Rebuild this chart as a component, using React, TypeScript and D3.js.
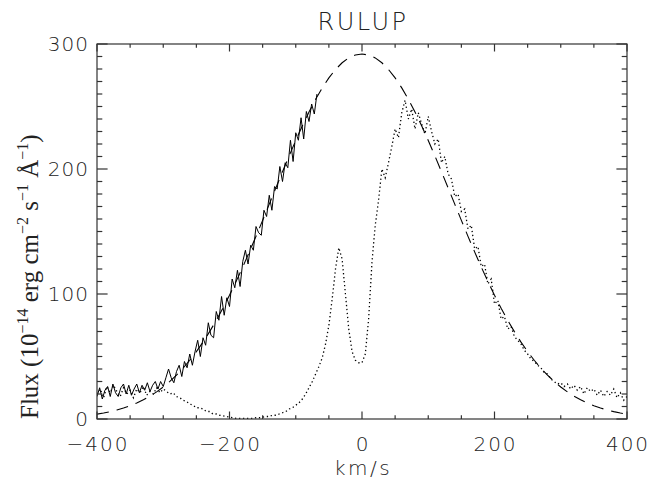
import React from "react";
import * as d3 from "d3";

const title = "RULUP";
const xTicksMajor = [-400, -200, 0, 200, 400];
const yTicksMajor = [0, 100, 200, 300];

// dashed model curve, km/s every 10 from -400 to 400
const modelX = [
  -400, -390, -380, -370, -360, -350, -340, -330, -320, -310, -300, -290, -280, -270, -260, -250, -240, -230, -220, -210,
  -200, -190, -180, -170, -160, -150, -140, -130, -120, -110, -100, -90, -80, -70, -60, -50, -40, -30, -20, -10,
  0, 10, 20, 30, 40, 50, 60, 70, 80, 90, 100, 110, 120, 130, 140, 150, 160, 170, 180, 190,
  200, 210, 220, 230, 240, 250, 260, 270, 280, 290, 300, 310, 320, 330, 340, 350, 360, 370, 380, 390, 400,
];
const modelY = [
  3.9, 4.8, 5.9, 7.2, 8.8, 10.6, 12.8, 15.4, 18.3, 21.7, 25.6, 30.1, 35.1, 40.7, 47.0, 53.9, 61.5, 69.9, 78.9, 88.6,
  99.0, 110.1, 121.6, 133.7, 146.1, 158.9, 171.9, 184.9, 197.8, 210.5, 222.8, 234.6, 245.6, 255.8, 264.9, 272.9, 279.6, 285.0, 288.9, 291.2,
  292.0, 291.2, 288.9, 285.0, 279.6, 272.9, 264.9, 255.8, 245.6, 234.6, 222.8, 210.5, 197.8, 184.9, 171.9, 158.9, 146.1, 133.7, 121.6, 110.1,
  99.0, 88.6, 78.9, 69.9, 61.5, 53.9, 47.0, 40.7, 35.1, 30.1, 25.6, 21.7, 18.3, 15.4, 12.8, 10.6, 8.8, 7.2, 5.9, 4.8, 3.9,
];

// solid observed profile, km/s every 4 from -400 to -68
const solidY = [
  18, 25, 16, 23, 26, 18, 28, 21, 18, 25, 28, 20, 27, 19, 24, 28, 21, 27, 23, 29,
  22, 27, 30, 24, 30, 26, 33, 40, 33, 29, 38, 43, 34, 46, 41, 52, 43, 54, 63, 50,
  65, 59, 77, 67, 65, 86, 79, 98, 83, 97, 90, 112, 105, 119, 106, 126, 135, 124, 139, 135,
  154, 149, 147, 167, 162, 179, 167, 186, 184, 202, 190, 205, 201, 223, 206, 229, 223, 241, 224, 246,
  238, 252, 244, 260,
];
const solidX = solidY.map((_, i) => -400 + 4 * i);

// dotted observed profile, km/s every 5 from -400 to 400
const dotY = [
  20, 24, 17, 26, 21, 27, 22, 18, 25, 20, 23, 17, 24, 21, 26, 19, 22, 20, 25, 21,
  24, 22, 20, 21, 18, 17, 15, 14, 12, 11, 9, 9, 8, 6, 6, 4, 4, 3, 2.5, 2,
  1.5, 1, 0.5, 0.5, 0.5, 0.5, 0.5, 0.5, 1, 1, 1.5, 2, 2, 3, 3, 4, 5, 6, 8, 9,
  11, 13, 16, 20, 25, 30, 36, 42, 49, 60, 75, 96, 120, 137, 128, 100, 72, 54, 47, 45,
  45, 52, 80, 125, 155, 175, 200, 193, 205, 218, 232, 225, 245, 255, 240, 248, 232, 245, 236, 228,
  242, 230, 220, 224, 205, 210, 196, 192, 178, 180, 166, 168, 152, 155, 136, 138, 122, 124, 108, 112,
  92, 95, 80, 82, 72, 74, 66, 63, 60, 55, 52, 48, 46, 43, 41, 37, 36, 32, 30, 28,
  29, 26, 28, 24, 27, 23, 26, 20, 25, 22, 24, 19, 23, 18, 22, 19, 24, 17, 21, 15, 18,
];
const dotX = dotY.map((_, i) => -400 + 5 * i);

const W = 651;
const H = 481;
const L = 97, R = 627, T = 44, B = 419;

export default function App() {
  const x = d3.scaleLinear().domain([-400, 400]).range([L, R]);
  const y = d3.scaleLinear().domain([0, 300]).range([B, T]);
  const line = d3.line<[number, number]>().x((d) => x(d[0])).y((d) => y(d[1]));
  const modelPath = line(modelX.map((v, i) => [v, modelY[i]]))!;
  const solidPath = line(solidX.map((v, i) => [v, solidY[i]]))!;
  const dotPath = line(dotX.map((v, i) => [v, dotY[i]]))!;

  const xMinor = d3.range(-400, 401, 50);
  const yMinor = d3.range(0, 301, 10);
  const xMajLen = 7.5, xMinLen = 3.75, yMajLen = 10.6, yMinLen = 5.3;
  const font = "'DejaVu Sans', sans-serif";
  const txt = "#222";

  return (
    <svg width={W} height={H} style={{ position: "absolute", left: 0, top: 0, background: "#fff" }}>
      <defs>
        <clipPath id="plotclip">
          <rect x={L} y={T - 1} width={R - L} height={B - T + 1} />
        </clipPath>
      </defs>
      <rect x={0} y={0} width={W} height={H} fill="#fff" />
      <g clipPath="url(#plotclip)" fill="none" stroke="#000">
        <path d={modelPath} strokeWidth={1.1} strokeDasharray="12,8" />
        <path d={solidPath} strokeWidth={1} />
        <path d={dotPath} strokeWidth={1.3} strokeDasharray="1.3,2.7" />
      </g>
      <g stroke="#333" strokeWidth={1.2}>
        <rect x={L} y={T} width={R - L} height={B - T} fill="none" />
        {xMinor.map((v) => {
          const len = xTicksMajor.includes(v) ? xMajLen : xMinLen;
          return (
            <g key={"xt" + v}>
              <line x1={x(v)} x2={x(v)} y1={B} y2={B - len} />
              <line x1={x(v)} x2={x(v)} y1={T} y2={T + len} />
            </g>
          );
        })}
        {yMinor.map((v) => {
          const len = yTicksMajor.includes(v) ? yMajLen : yMinLen;
          return (
            <g key={"yt" + v}>
              <line x1={L} x2={L + len} y1={y(v)} y2={y(v)} />
              <line x1={R} x2={R - len} y1={y(v)} y2={y(v)} />
            </g>
          );
        })}
      </g>
      <g fontFamily={font} fontWeight={200} fill={txt} fontSize={20}>
        {xTicksMajor.map((v) => (
          <text key={"xl" + v} x={x(v) + 1} y={444} textAnchor="middle" dominantBaseline="central" letterSpacing={2}>
            {v < 0 ? "\u2212" + Math.abs(v) : String(v)}
          </text>
        ))}
        {yTicksMajor.map((v) => (
          <text key={"yl" + v} x={L - 8} y={y(v)} textAnchor="end" dominantBaseline="central" letterSpacing={1}>
            {String(v)}
          </text>
        ))}
        <text x={363} y={468} textAnchor="middle" dominantBaseline="central" letterSpacing={2.5}>km/s</text>
        <text x={363} y={22} textAnchor="middle" dominantBaseline="central" fontSize={24} letterSpacing={2.5}>{title}</text>
      </g>
      <text
        transform={`translate(38, 419) rotate(-90)`}
        fontFamily="'Liberation Serif', serif"
        fontSize={25}
        fill={txt}
      >
        Flux (10<tspan dy={-10} fontSize={16}>−14</tspan>
        <tspan dy={10}> erg cm</tspan>
        <tspan dy={-10} fontSize={16}>−2</tspan>
        <tspan dy={10}> s</tspan>
        <tspan dy={-10} fontSize={16}>−1</tspan>
        <tspan dy={10}> Å</tspan>
        <tspan dy={-10} fontSize={16}>−1</tspan>
        <tspan dy={10}>)</tspan>
      </text>
    </svg>
  );
}
